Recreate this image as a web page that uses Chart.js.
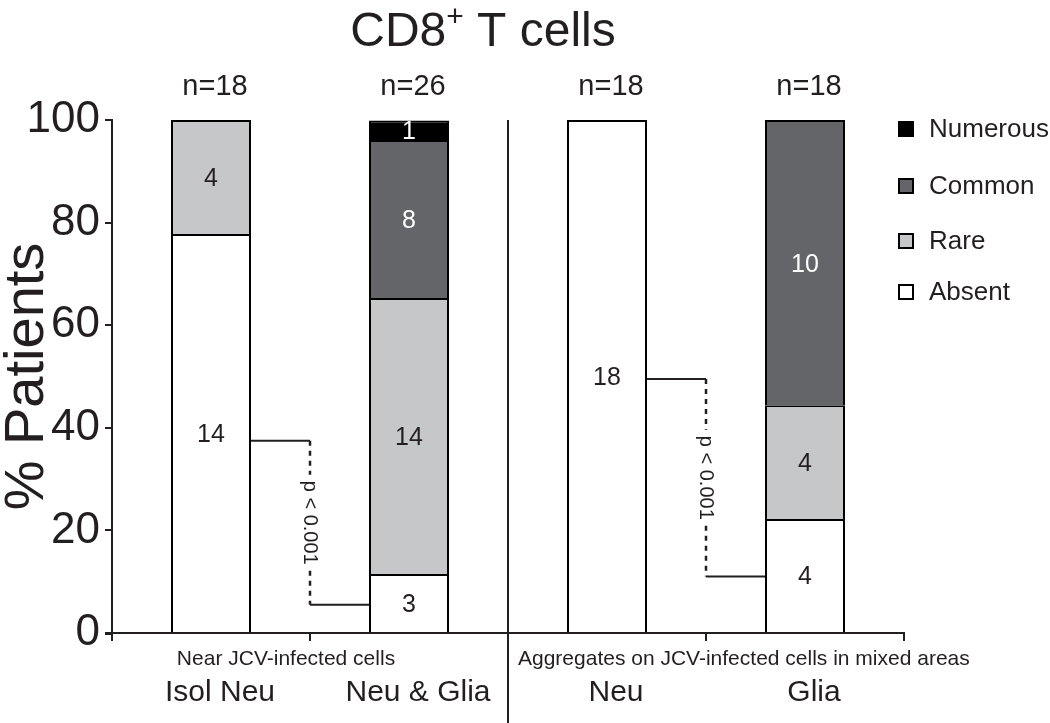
<!DOCTYPE html>
<html>
<head>
<meta charset="utf-8">
<script src="https://cdn.jsdelivr.net/npm/chart.js@4.4.1/dist/chart.umd.min.js"></script>
<style>
  html, body { margin: 0; padding: 0; background: #fff; }
  #wrap { width: 1050px; height: 723px; }
</style>
</head>
<body>
<div id="wrap"><canvas id="chart" width="1050" height="723"></canvas></div>
<script>
const categories = ['Isol Neu', 'Neu & Glia', 'Neu', 'Glia'];
const sampleSizes = ['n=18', 'n=26', 'n=18', 'n=18'];
const groupLabels = ['Near JCV-infected cells', 'Aggregates on JCV-infected cells in mixed areas'];
const yTicks = [0, 20, 40, 60, 80, 100];

// % of patients per category
const absentPct = [77.8, 11.5, 100, 22.2];
const rarePct = [22.2, 53.8, null, 22.2];
const commonPct = [null, 30.8, null, 55.6];
const numerousPct = [null, 3.8, null, null];

// patient counts printed inside the segments
const absentN = [14, 3, 18, 4];
const rareN = [4, 14, null, 4];
const commonN = [null, 8, null, 10];
const numerousN = [null, 1, null, null];

// significance brackets: from category, to category, % levels
const brackets = [
  { from: 0, to: 1, yFrom: 37.5, yTo: 5.5, text: 'p < 0.001' },
  { from: 2, to: 3, yFrom: 49.5, yTo: 11, text: 'p < 0.001' }
];

const INK = '#231f20';
const FONT = '"Liberation Sans", Arial, Helvetica, sans-serif';

const series = [
  { label: 'Absent', data: absentPct, counts: absentN, bg: '#ffffff', text: INK },
  { label: 'Rare', data: rarePct, counts: rareN, bg: '#c6c7c9', text: INK },
  { label: 'Common', data: commonPct, counts: commonN, bg: '#646569', text: '#ffffff' },
  { label: 'Numerous', data: numerousPct, counts: numerousN, bg: '#000000', text: '#ffffff' }
];

const decorations = {
  id: 'decorations',
  afterDraw(chart) {
    const ctx = chart.ctx;
    const x = chart.scales.x;
    const y = chart.scales.y;
    const area = chart.chartArea;
    ctx.save();
    ctx.fillStyle = INK;
    ctx.strokeStyle = INK;

    // title with superscript
    ctx.textBaseline = 'alphabetic';
    ctx.textAlign = 'left';
    const big = '48px ' + FONT;
    const sup = '30px ' + FONT;
    ctx.font = big;
    const w1 = ctx.measureText('CD8').width;
    const w3 = ctx.measureText(' T cells').width;
    ctx.font = sup;
    const w2 = ctx.measureText('+').width;
    let tx = 483 - (w1 + w2 + w3) / 2;
    const base = 46;
    ctx.font = big;
    ctx.fillText('CD8', tx, base);
    ctx.font = sup;
    ctx.fillText('+', tx + w1, base - 20);
    ctx.font = big;
    ctx.fillText(' T cells', tx + w1 + w2, base);

    // n= labels
    ctx.font = '29px ' + FONT;
    ctx.textAlign = 'center';
    ctx.textBaseline = 'middle';
    sampleSizes.forEach((s, i) => ctx.fillText(s, x.getPixelForValue(i) + 4, 87));

    // group labels
    ctx.font = '21px ' + FONT;
    ctx.textAlign = 'center';
    ctx.fillText(groupLabels[0], x.getPixelForValue(0.5) - 24, 659);
    ctx.textAlign = 'left';
    ctx.fillText(groupLabels[1], x.getPixelForValue(1.5) + 10, 659);

    // separator between groups, small overhang of the x axis on the left
    ctx.lineWidth = 2;
    ctx.beginPath();
    const sx = Math.round(x.getPixelForValue(1.5));
    ctx.moveTo(sx, area.top);
    ctx.lineTo(sx, chart.height);
    ctx.moveTo(area.left - 7, area.bottom + 1);
    ctx.lineTo(area.left, area.bottom + 1);
    ctx.stroke();

    // counts inside segments
    ctx.font = '25px ' + FONT;
    ctx.textAlign = 'center';
    ctx.textBaseline = 'middle';
    series.forEach((s, di) => {
      const meta = chart.getDatasetMeta(di);
      meta.data.forEach((bar, j) => {
        const n = s.counts[j];
        if (n === null || s.data[j] === null) return;
        ctx.fillStyle = s.text;
        ctx.fillText(String(n), bar.x, (bar.y + bar.base) / 2 + 2);
      });
    });

    // significance brackets
    ctx.fillStyle = INK;
    ctx.strokeStyle = INK;
    const absentMeta = chart.getDatasetMeta(0);
    brackets.forEach(b => {
      const b1 = absentMeta.data[b.from];
      const b2 = absentMeta.data[b.to];
      const x1 = b1.x + b1.width / 2;
      const x2 = b2.x - b2.width / 2;
      const xm = x.getPixelForValue((b.from + b.to) / 2);
      const y1 = y.getPixelForValue(b.yFrom);
      const y2 = y.getPixelForValue(b.yTo);
      ctx.lineWidth = 2;
      ctx.setLineDash([]);
      ctx.beginPath();
      ctx.moveTo(x1, y1); ctx.lineTo(xm, y1);
      ctx.moveTo(xm, y2); ctx.lineTo(x2, y2);
      ctx.stroke();
      ctx.font = '20px ' + FONT;
      const tw = ctx.measureText(b.text).width;
      const ym = (y1 + y2) / 2;
      ctx.lineWidth = 2.5;
      ctx.setLineDash([5, 5]);
      ctx.beginPath();
      ctx.moveTo(xm, y1); ctx.lineTo(xm, ym - tw / 2 - 6);
      ctx.moveTo(xm, ym + tw / 2 + 6); ctx.lineTo(xm, y2);
      ctx.stroke();
      ctx.setLineDash([]);
      ctx.save();
      ctx.translate(xm, ym);
      ctx.rotate(Math.PI / 2);
      ctx.textAlign = 'center';
      ctx.textBaseline = 'middle';
      ctx.fillText(b.text, 0, 0);
      ctx.restore();
    });

    // legend (top item = top of stack)
    const legendY = [129, 186, 241, 292];
    ctx.font = '26px ' + FONT;
    ctx.textAlign = 'left';
    ctx.textBaseline = 'middle';
    series.slice().reverse().forEach((s, i) => {
      const cy = legendY[i];
      ctx.fillStyle = s.bg;
      ctx.fillRect(899, cy - 7, 14, 14);
      ctx.lineWidth = 2;
      ctx.strokeStyle = '#000';
      ctx.strokeRect(899, cy - 7, 14, 14);
      ctx.fillStyle = INK;
      ctx.fillText(s.label, 929, cy + 1);
    });

    ctx.restore();
  }
};

new Chart(document.getElementById('chart'), {
  type: 'bar',
  data: {
    labels: categories,
    datasets: series.map(s => ({
      label: s.label,
      data: s.data,
      backgroundColor: s.bg,
      borderColor: '#000000',
      borderWidth: 2,
      borderSkipped: 'start',
      barPercentage: 0.404,
      categoryPercentage: 1
    }))
  },
  options: {
    responsive: false,
    animation: false,
    layout: { padding: { top: 120, right: 146, bottom: 0, left: 0 } },
    plugins: {
      legend: { display: false },
      tooltip: { enabled: false }
    },
    scales: {
      x: {
        stacked: true,
        offset: true,
        grid: { offset: true, drawOnChartArea: false, drawTicks: true, tickLength: 8, color: INK, lineWidth: 2 },
        border: { color: INK, width: 2 },
        ticks: { color: INK, font: { family: FONT, size: 30 }, padding: 34, labelOffset: 9 },
        afterFit(scale) { scale.height = 90; }
      },
      y: {
        stacked: true,
        min: 0,
        max: 100,
        afterBuildTicks(scale) { scale.ticks = yTicks.map(v => ({ value: v })); },
        grid: { drawOnChartArea: false, drawTicks: true, tickLength: 7, color: INK, lineWidth: 2 },
        border: { color: INK, width: 2 },
        ticks: { color: INK, font: { family: FONT, size: 44 }, padding: 5 },
        title: { display: true, text: '% Patients', color: INK, font: { family: FONT, size: 56, lineHeight: 1 }, padding: 0 },
        afterFit(scale) { scale.width = 112; }
      }
    }
  },
  plugins: [decorations]
});
</script>
</body>
</html>
